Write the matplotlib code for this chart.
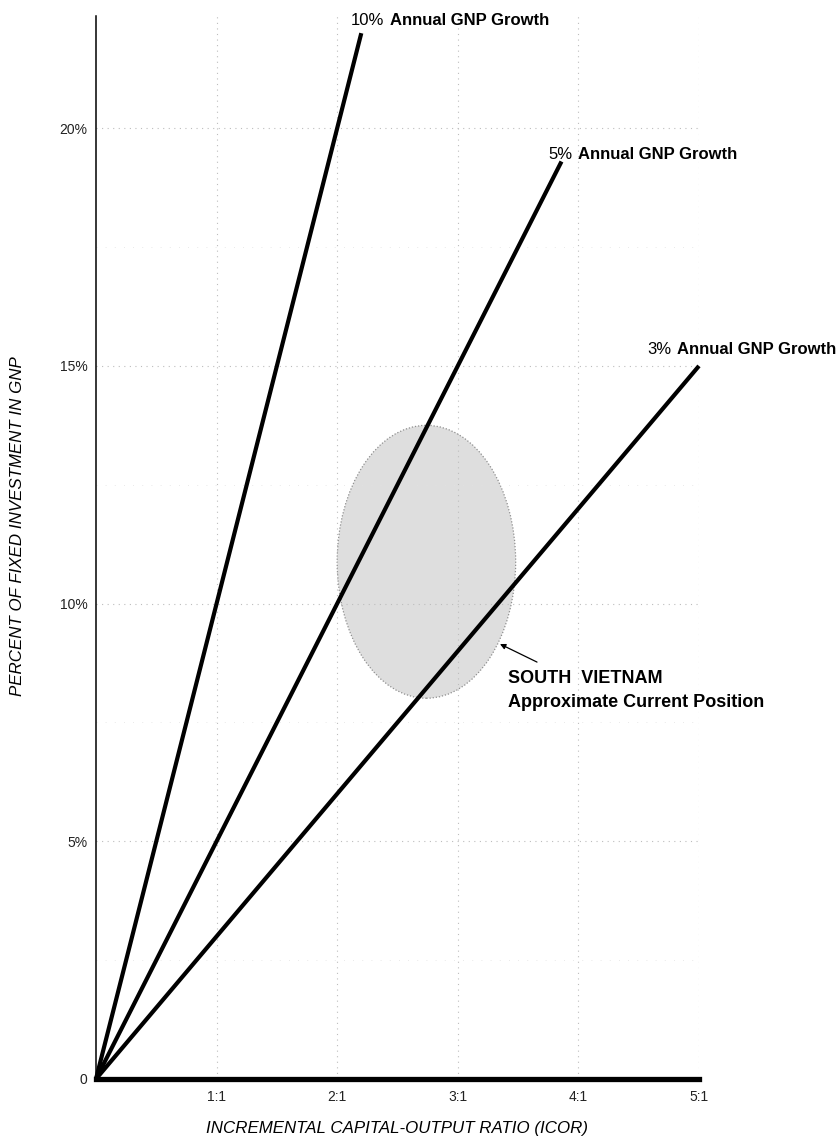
import matplotlib
matplotlib.use("Agg")
import matplotlib.pyplot as plt
from matplotlib.patches import Ellipse

plt.rcParams['font.family'] = ['Liberation Sans', 'DejaVu Sans']

# ---- data ----
growth_rates = [10, 5, 3]                 # % annual GNP growth
icor_end = [2.2, 3.86, 5.0]               # ICOR at which each line ends
line_labels = ["10%", "5%", "3%"]
x_ticks = [1, 2, 3, 4, 5]
x_ticklabels = ["1:1", "2:1", "3:1", "4:1", "5:1"]
y_ticks = [0, 5, 10, 15, 20]
y_ticklabels = ["0", "5%", "10%", "15%", "20%"]
sv_center = (2.74, 10.88)                 # South Vietnam approx position (ICOR, %)
sv_size = (1.48, 5.74)                    # extent of shaded region

fig = plt.figure(figsize=(8.39, 11.38), dpi=100)
ax = fig.add_axes([0.1144, 0.05185, 0.8331 - 0.1144, 0.9859 - 0.05185])
ax.set_xlim(0, 5)
ax.set_ylim(0, 22.36)

# shaded ellipse
ell = Ellipse(sv_center, sv_size[0], sv_size[1], facecolor='#dedede',
              edgecolor='#8f8f8f', linestyle=(0, (1, 1.5)), linewidth=0.9, zorder=1)
ax.add_patch(ell)

# grid (faint dotted)
for xv in x_ticks:
    ax.axvline(xv, color='#bdbdbd', lw=0.8, ls=(0, (1, 4)), zorder=2)
for yv in y_ticks[1:]:
    ax.axhline(yv, color='#bdbdbd', lw=0.8, ls=(0, (1, 4)), zorder=2)
for yv in [2.5, 7.5, 12.5, 17.5]:
    ax.axhline(yv, color='#e2e2e2', lw=0.6, ls=(0, (1, 10)), zorder=2)

# growth lines
for g, xe in zip(growth_rates, icor_end):
    ax.plot([0, xe], [0, g * xe], color='black', lw=3.0, solid_capstyle='butt',
            clip_on=False, zorder=4)

# spines
for s in ['top', 'right']:
    ax.spines[s].set_visible(False)
ax.spines['left'].set_linewidth(1.1)
ax.spines['bottom'].set_linewidth(3.8)
ax.spines['bottom'].set_zorder(5)

ax.set_xticks(x_ticks)
ax.set_xticklabels(x_ticklabels)
ax.set_yticks(y_ticks)
ax.set_yticklabels(y_ticklabels)
ax.tick_params(axis='both', length=0, labelsize=10, labelcolor='#222222')
ax.tick_params(axis='x', pad=8)
ax.tick_params(axis='y', pad=6)

# line labels: percentage regular + rest bold
label_pos = [(2.114, 22.26), (3.748, 19.45), (4.569, 15.34)]
for lab, (lx, ly) in zip(line_labels, label_pos):
    t = ax.text(lx, ly, lab, fontsize=12, ha='left', va='center', clip_on=False)
    ax.annotate("Annual GNP Growth", xy=(1, 0.5), xycoords=t, xytext=(4, 0),
                textcoords='offset points', fontsize=12, fontweight='bold',
                ha='left', va='center', annotation_clip=False)

# South Vietnam annotation
ax.annotate("", xy=(3.35, 9.15), xytext=(3.657, 8.77),
            arrowprops=dict(arrowstyle='-|>', color='black', lw=0.9,
                            shrinkA=0, shrinkB=0, mutation_scale=8))
ax.text(3.416, 8.33, "SOUTH  VIETNAM", fontsize=13, fontweight='bold',
        ha='left', va='baseline')
ax.text(3.416, 7.83, "Approximate Current Position", fontsize=13, fontweight='bold',
        ha='left', va='baseline')

# axis titles
fig.text(18 / 839, 1 - 526 / 1138, "PERCENT OF FIXED INVESTMENT IN GNP",
         rotation=90, fontsize=12.2, style='italic', ha='center', va='center')
fig.text(397 / 839, 1 - 1128 / 1138, "INCREMENTAL CAPITAL-OUTPUT RATIO (ICOR)",
         fontsize=12.2, style='italic', ha='center', va='center')

fig.savefig("out.png", dpi=100)
